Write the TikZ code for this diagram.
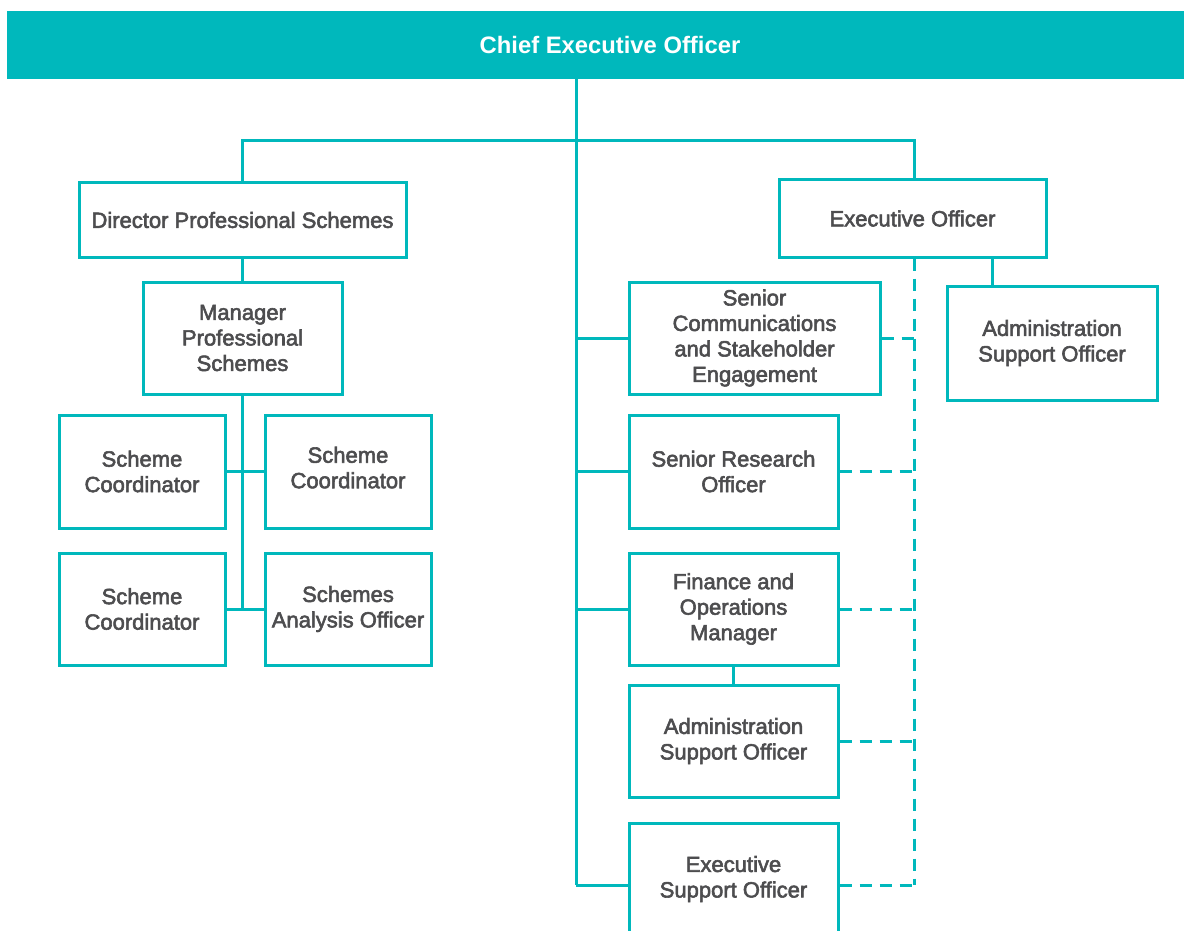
\documentclass[tikz,border=0pt]{standalone}
\usepackage{fontspec}
\setmainfont{Liberation Sans}
\newfontfamily\boxfont{Liberation Sans}[FakeBold=2.6]
\definecolor{teal}{HTML}{00B8BC}
\definecolor{ink}{HTML}{4D4D4F}
\begin{document}
\begin{tikzpicture}[x=1pt,y=-1pt,
  box/.style={draw=teal, line width=3pt, fill=white, rectangle, inner sep=0pt,
    align=center, text=ink, font=\boxfont\fontsize{22}{25.5}\selectfont},
  link/.style={draw=teal, line width=3pt},
  dotlink/.style={draw=teal, line width=3pt, dash pattern=on 12pt off 8pt}]
\useasboundingbox (0,0) rectangle (1184,931);

% top bar
\node[fill=teal, minimum width=1206pt, minimum height=68pt, inner sep=0pt,
  text=white, font=\bfseries\fontsize{23.8}{28}\selectfont] (ceo) at (610,45) {Chief Executive Officer};

% junction points
\coordinate (hbar) at (576,141);
\coordinate (trunkend) at (576,885);
\coordinate (dashx) at (914,0);

% left branch
\node[box, minimum width=327pt, minimum height=74pt] (dps) at (242.5,220) {Director Professional Schemes};
\node[box, minimum width=199pt, minimum height=112pt] (mps) at (242.5,338) {Manager\\Professional\\Schemes};
\node[box, minimum width=166pt, minimum height=113pt] (sc1) at (142,471.5) {Scheme\\Coordinator};
\node[box, minimum width=166pt, minimum height=113pt] (sc2) at (348,471.5) {Scheme\\Coordinator\\[-17.5pt]};
\node[box, minimum width=166pt, minimum height=112pt] (sc3) at (142,609) {Scheme\\Coordinator};
\node[box, minimum width=166pt, minimum height=112pt] (sao) at (348,609) {Schemes\\Analysis Officer};

% right branch
\node[box, minimum width=267pt, minimum height=77pt] (eo) at (912.5,218.5) {Executive Officer};
\node[box, minimum width=210pt, minimum height=114pt] (aso2) at (1052,343) {Administration\\Support Officer};
\node[box, minimum width=251pt, minimum height=112pt] (scse) at (754.5,338) {Senior\\Communications\\and Stakeholder\\Engagement};
\node[box, minimum width=209pt, minimum height=113pt] (sro) at (733.5,471.5) {Senior Research\\Officer};
\node[box, minimum width=209pt, minimum height=112pt] (fom) at (733.5,609) {Finance and\\Operations\\Manager};
\node[box, minimum width=209pt, minimum height=112pt] (aso) at (733.5,741) {Administration\\Support Officer};
\node[box, minimum width=209pt, minimum height=112pt] (eso) at (733.5,879) {Executive\\Support Officer};

% solid reporting lines
\draw[link] (ceo.south -| hbar) -- (trunkend);
\draw[link] (dps.north) |- (hbar) -| (eo.north -| dashx);
\draw[link] (dps.south) -- (mps.north);
\draw[link] (mps.south) -- (mps.south |- sc3.east);
\draw[link] (sc1.east) -- (sc2.west);
\draw[link] (sc3.east) -- (sao.west);
\draw[link] (hbar |- scse.west) -- (scse.west);
\draw[link] (hbar |- sro.west) -- (sro.west);
\draw[link] (hbar |- fom.west) -- (fom.west);
\draw[link] (trunkend) -- (trunkend -| eso.west);
\draw[link] (fom.south) -- (aso.north);
\draw[link] ([xshift=79.5pt]eo.south) -- ([xshift=79.5pt]eo.south |- aso2.north);

% dashed lines
\draw[dotlink] (eo.south -| dashx) -- (dashx |- trunkend);
\draw[dotlink] (scse.east) -- (scse.east -| dashx);
\draw[dotlink] (sro.east) -- (sro.east -| dashx);
\draw[dotlink] (fom.east) -- (fom.east -| dashx);
\draw[dotlink] (aso.east) -- (aso.east -| dashx);
\draw[dotlink] (eso.east |- trunkend) -- (dashx |- trunkend);

\end{tikzpicture}
\end{document}
